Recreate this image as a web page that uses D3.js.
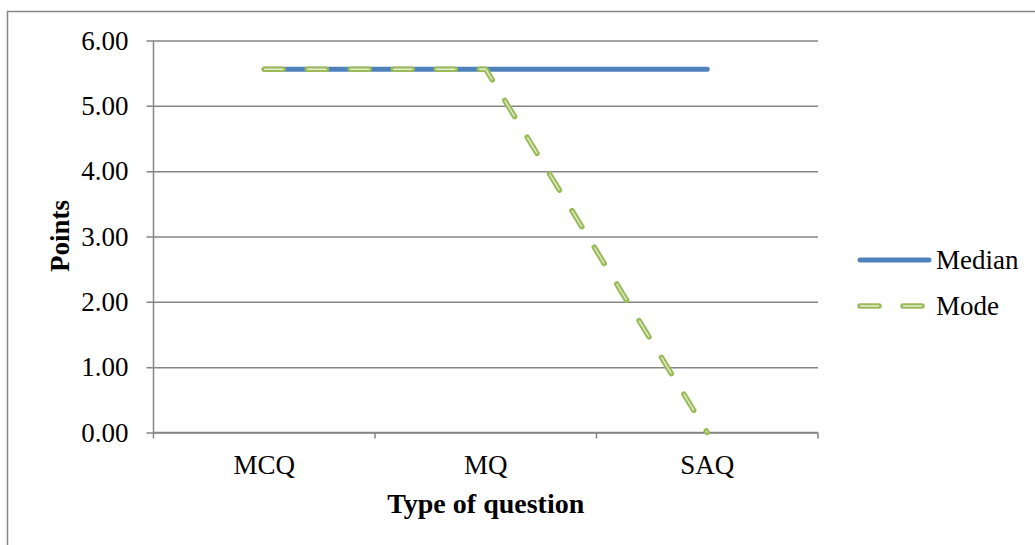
<!DOCTYPE html>
<html>
<head>
<meta charset="utf-8">
<script src="https://cdn.jsdelivr.net/npm/d3@7"></script>
<style>
  html, body { margin: 0; padding: 0; background: #fff; }
  svg { display: block; }
</style>
</head>
<body>
<script>
// Question types on the x axis
const categories = ["MCQ", "MQ", "SAQ"];
// Points per question type
const medianValues = [5.56, 5.56, 5.56];
const modeValues = [5.56, 5.56, 0];
// Y axis ticks
const yTicks = [0, 1, 2, 3, 4, 5, 6];
const yTickLabels = ["0.00", "1.00", "2.00", "3.00", "4.00", "5.00", "6.00"];
const seriesNames = ["Median", "Mode"];

const W = 1035, H = 545;
const plot = { left: 153.5, right: 818, top: 40.5, bottom: 432.5 };
const axisColor = "#868686";
const blue = "#4F81BD", green = "#9BBB59", greenInner = "#E3EDD0";
const fontSize = 27;
const serif = "'Liberation Serif', 'Times New Roman', Times, serif";

const svg = d3.select("body").append("svg")
  .attr("width", W).attr("height", H)
  .attr("font-family", serif);

// Outer chart frame
svg.append("rect")
  .attr("x", 7.5).attr("y", 11.5)
  .attr("width", W + 20).attr("height", H + 20)
  .attr("fill", "none").attr("stroke", axisColor).attr("stroke-width", 1.5);

const x = d3.scaleBand().domain(categories).range([plot.left, plot.right]).padding(0);
const y = d3.scaleLinear().domain([0, 6]).range([plot.bottom, plot.top]);

// Horizontal gridlines with left tick marks
const yAxis = d3.axisLeft(y)
  .tickValues(yTicks)
  .tickSize(-(plot.right - plot.left))
  .tickPadding(25)
  .tickFormat((d, i) => yTickLabels[i]);
const gy = svg.append("g").attr("transform", `translate(${plot.left},0)`).call(yAxis);
gy.attr("font-family", serif).attr("font-size", fontSize);
gy.select(".domain").remove();
gy.selectAll(".tick line").attr("stroke", axisColor).attr("stroke-width", 1.5).attr("x1", -7);
gy.selectAll(".tick text").attr("font-family", serif).attr("font-size", fontSize).attr("fill", "#000");

// Vertical axis line
svg.append("line")
  .attr("x1", plot.left).attr("x2", plot.left)
  .attr("y1", plot.top).attr("y2", plot.bottom)
  .attr("stroke", axisColor).attr("stroke-width", 1.5);

// X axis: boundary ticks between categories
const bounds = categories.map(c => x(c)).concat([x(categories[categories.length - 1]) + x.bandwidth()]);
const gx = svg.append("g");
gx.append("line")
  .attr("x1", plot.left).attr("x2", plot.right)
  .attr("y1", plot.bottom).attr("y2", plot.bottom)
  .attr("stroke", axisColor).attr("stroke-width", 1.5);
gx.selectAll("line.tk").data(bounds).enter().append("line")
  .attr("class", "tk")
  .attr("x1", d => d).attr("x2", d => d)
  .attr("y1", plot.bottom).attr("y2", plot.bottom + 6)
  .attr("stroke", axisColor).attr("stroke-width", 1.5);
gx.selectAll("text").data(categories).enter().append("text")
  .attr("x", d => x(d) + x.bandwidth() / 2)
  .attr("y", 474)
  .attr("text-anchor", "middle")
  .attr("font-family", serif).attr("font-size", fontSize)
  .text(d => d);

// Axis titles
svg.append("text")
  .attr("x", (plot.left + plot.right) / 2).attr("y", 513)
  .attr("text-anchor", "middle")
  .attr("font-family", serif).attr("font-size", 28).attr("font-weight", "bold")
  .text("Type of question");
svg.append("text")
  .attr("transform", "translate(69,236) rotate(-90)")
  .attr("text-anchor", "middle")
  .attr("font-family", serif).attr("font-size", 27).attr("font-weight", "bold")
  .text("Points");

const cx = d => x(d) + x.bandwidth() / 2;
const line = d3.line().x(d => cx(d.c)).y(d => y(d.v));

// Median series
const medianData = categories.map((c, i) => ({ c, v: medianValues[i] }));
svg.append("path").datum(medianData)
  .attr("d", line).attr("fill", "none")
  .attr("stroke", blue).attr("stroke-width", 5).attr("stroke-linecap", "round").attr("stroke-linejoin", "round");

// Mode series: dashed green with a light inner highlight
const modeData = categories.map((c, i) => ({ c, v: modeValues[i] }));
const dash = "19,24";
svg.append("path").datum(modeData)
  .attr("d", line).attr("fill", "none")
  .attr("stroke", green).attr("stroke-width", 5.5).attr("stroke-dasharray", dash)
  .attr("stroke-linecap", "round").attr("stroke-linejoin", "round");
svg.append("path").datum(modeData)
  .attr("d", line).attr("fill", "none")
  .attr("stroke", greenInner).attr("stroke-width", 1.3).attr("stroke-dasharray", dash)
  .attr("stroke-linecap", "butt").attr("stroke-linejoin", "round");

// Legend
const legend = svg.append("g");
const legendY = [260, 306];
const styles = [
  { stroke: blue, width: 5, dash: null },
  { stroke: green, width: 5.5, dash: dash }
];
seriesNames.forEach((name, i) => {
  legend.append("line")
    .attr("x1", 860).attr("x2", 929)
    .attr("y1", legendY[i]).attr("y2", legendY[i])
    .attr("stroke", styles[i].stroke).attr("stroke-width", styles[i].width)
    .attr("stroke-linecap", "round")
    .attr("stroke-dasharray", styles[i].dash);
  if (i === 1) {
    legend.append("line")
      .attr("x1", 860).attr("x2", 929)
      .attr("y1", legendY[i]).attr("y2", legendY[i])
      .attr("stroke", greenInner).attr("stroke-width", 1.3)
      .attr("stroke-dasharray", dash);
  }
  legend.append("text")
    .attr("x", 936).attr("y", legendY[i] + 9)
    .attr("font-family", serif).attr("font-size", fontSize)
    .text(name);
});
</script>
</body>
</html>
